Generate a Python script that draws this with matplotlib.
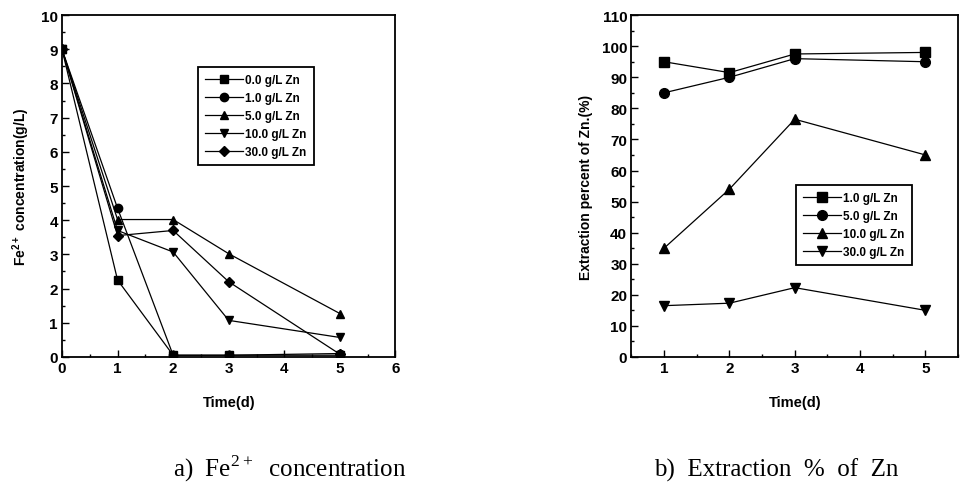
import matplotlib
matplotlib.use("Agg")
import matplotlib.pyplot as plt
from matplotlib.ticker import MultipleLocator

plt.rcParams['font.family'] = ['Liberation Sans', 'DejaVu Sans']

# a) Fe2+ concentration
fe_time = [0, 1, 2, 3, 5]
fe_labels = ["0.0 g/L Zn", "1.0 g/L Zn", "5.0 g/L Zn", "10.0 g/L Zn", "30.0 g/L Zn"]
fe_0 = [9.0, 2.25, 0.05, 0.05, 0.05]
fe_1 = [9.0, 4.35, 0.05, 0.05, 0.1]
fe_5 = [9.0, 4.02, 4.02, 3.02, 1.27]
fe_10 = [9.0, 3.7, 3.07, 1.07, 0.57]
fe_30 = [9.0, 3.55, 3.7, 2.2, 0.08]
fe_markers = ["s", "o", "^", "v", "D"]

# b) Extraction % of Zn
ex_time = [1, 2, 3, 5]
ex_labels = ["1.0 g/L Zn", "5.0 g/L Zn", "10.0 g/L Zn", "30.0 g/L Zn"]
ex_1 = [95, 91.5, 97.5, 98]
ex_5 = [85, 90, 96, 95]
ex_10 = [35, 54, 76.5, 65]
ex_30 = [16.5, 17.3, 22.3, 15]
ex_markers = ["s", "o", "^", "v"]

fig = plt.figure(figsize=(9.61, 4.89), dpi=100, facecolor='w')
ax1 = fig.add_axes([0.0645, 0.268, 0.347, 0.699])
ax2 = fig.add_axes([0.657, 0.268, 0.340, 0.699])

def style_axes(ax):
    for s in ax.spines.values():
        s.set_linewidth(1.3)
    ax.tick_params(which='both', direction='in', top=False, right=False,
                   labelsize=11, width=1, pad=3)
    ax.tick_params(which='major', length=5)
    ax.tick_params(which='minor', length=2.5)
    for lab in ax.get_xticklabels() + ax.get_yticklabels():
        lab.set_fontweight('bold')

def make_legend(ax, anchor):
    leg = ax.legend(loc='upper left', bbox_to_anchor=anchor, fontsize=8.5,
                    handlelength=3.2, handletextpad=0.2, labelspacing=0.5,
                    fancybox=False, edgecolor='k', framealpha=1, borderpad=0.6)
    leg.get_frame().set_linewidth(1.3)
    for t in leg.get_texts():
        t.set_fontweight('bold')

for ys, mk, lab in zip([fe_0, fe_1, fe_5, fe_10, fe_30], fe_markers, fe_labels):
    ms = 6 if mk != "D" else 5
    ax1.plot(fe_time, ys, color='k', lw=0.9, marker=mk, ms=ms, label=lab)
ax1.set_xlim(0, 6)
ax1.set_ylim(0, 10)
ax1.xaxis.set_major_locator(MultipleLocator(1))
ax1.xaxis.set_minor_locator(MultipleLocator(0.5))
ax1.yaxis.set_major_locator(MultipleLocator(1))
ax1.yaxis.set_minor_locator(MultipleLocator(0.5))
ax1.set_xlabel("Time(d)", fontsize=10.5, fontweight='bold', labelpad=14)
ax1.set_ylabel("Fe$^{\\mathregular{2+}}$ concentration(g/L)", fontsize=10,
               fontweight='bold', labelpad=6)
style_axes(ax1)
make_legend(ax1, (0.39, 0.865))

for ys, mk, lab in zip([ex_1, ex_5, ex_10, ex_30], ex_markers, ex_labels):
    ax2.plot(ex_time, ys, color='k', lw=0.9, marker=mk, ms=7, label=lab)
ax2.set_xlim(0.5, 5.5)
ax2.set_ylim(0, 110)
ax2.xaxis.set_major_locator(MultipleLocator(1))
ax2.xaxis.set_minor_locator(MultipleLocator(0.5))
ax2.yaxis.set_major_locator(MultipleLocator(10))
ax2.yaxis.set_minor_locator(MultipleLocator(5))
ax2.set_xticks([1, 2, 3, 4, 5])
ax2.set_xlabel("Time(d)", fontsize=10.5, fontweight='bold', labelpad=14)
ax2.set_ylabel("Extraction percent of Zn.(%)", fontsize=10, fontweight='bold', labelpad=6)
style_axes(ax2)
make_legend(ax2, (0.486, 0.52))

fig.text(0.302, 0.0245, "a)  Fe$^{\\mathregular{2+}}$  concentration", fontsize=18,
         family='Liberation Serif', ha='center', va='baseline')
fig.text(0.8075, 0.0245, "b)  Extraction  %  of  Zn", fontsize=18,
         family='Liberation Serif', ha='center', va='baseline')

fig.savefig("out.png", dpi=100)
